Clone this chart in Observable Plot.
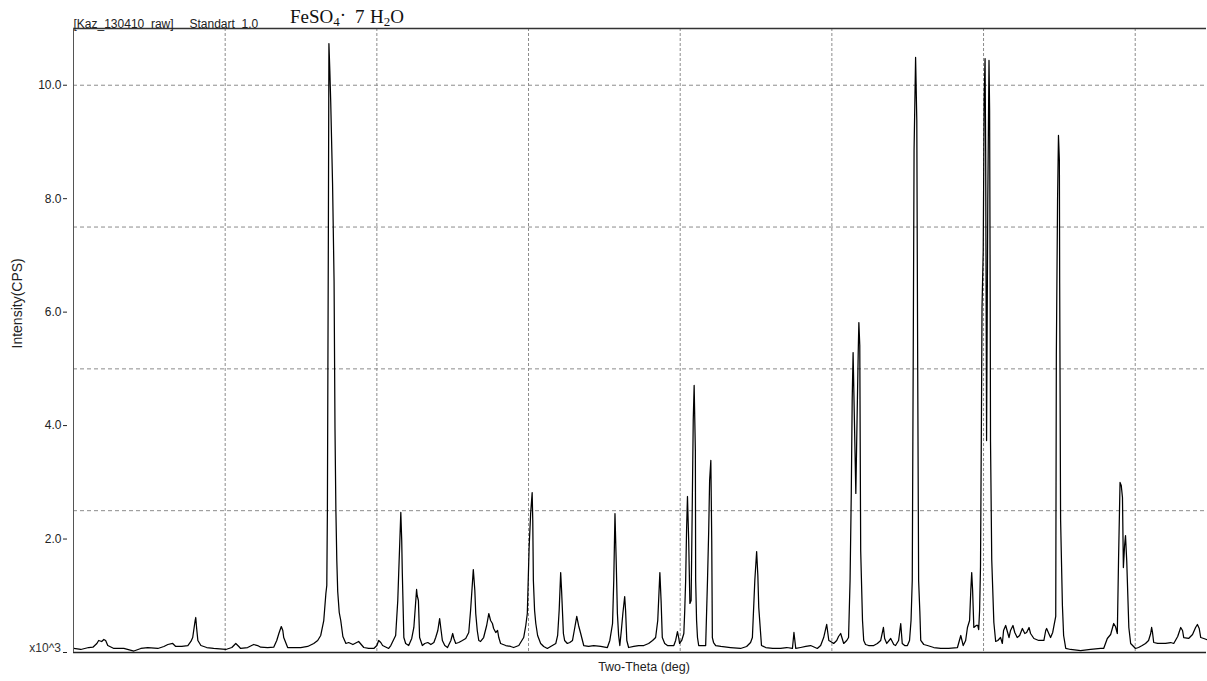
<!DOCTYPE html>
<html><head><meta charset="utf-8">
<script src="https://cdn.jsdelivr.net/npm/d3@7"></script>
<script src="https://cdn.jsdelivr.net/npm/@observablehq/plot@0.6"></script>
<style>
body{margin:0;background:#fff;}
#chart svg{display:block;}
</style></head><body><div id="chart"></div>
<script>
const twoTheta = [
5.01,5.24,5.50,5.64,5.77,5.83,5.93,6.00,6.06,6.13,
6.33,6.66,6.99,7.22,7.45,7.78,7.98,8.11,8.27,8.37,
8.57,8.77,8.87,8.93,9.01,9.03,9.06,9.10,9.20,9.39,
9.62,10.02,10.22,10.35,10.45,10.51,10.74,10.94,11.07,11.17,
11.40,11.60,11.70,11.77,11.85,11.90,11.93,12.06,12.26,12.49,
12.72,12.92,13.05,13.15,13.25,13.32,13.35,13.37,13.40,13.42,
13.45,13.48,13.54,13.59,13.62,13.65,13.68,13.71,13.76,13.81,
13.88,13.98,14.07,14.21,14.40,14.57,14.73,14.90,15.00,15.06,
15.13,15.19,15.39,15.46,15.62,15.69,15.72,15.79,15.82,15.84,
15.89,15.95,16.05,16.15,16.22,16.31,16.33,16.37,16.41,16.50,
16.58,16.68,16.78,16.88,16.94,17.01,17.07,17.11,17.16,17.24,
17.33,17.44,17.50,17.54,17.60,17.70,17.82,17.93,18.03,18.09,
18.18,18.23,18.26,18.31,18.36,18.42,18.52,18.62,18.69,18.75,
18.81,18.85,18.92,18.98,19.02,19.08,19.25,19.41,19.51,19.68,
19.84,19.91,19.96,20.02,20.07,20.12,20.14,20.16,20.20,20.24,
20.30,20.40,20.50,20.62,20.73,20.90,20.96,21.01,21.06,21.09,
21.15,21.19,21.28,21.36,21.45,21.52,21.59,21.65,21.72,21.82,
21.98,22.15,22.38,22.60,22.68,22.77,22.81,22.85,22.89,22.93,
22.97,23.01,23.06,23.11,23.17,23.20,23.24,23.30,23.47,23.63,
23.80,23.96,24.09,24.19,24.26,24.33,24.37,24.41,24.49,24.58,
24.69,24.79,24.85,24.91,24.95,24.98,25.05,25.12,25.15,25.18,
25.21,25.24,25.28,25.32,25.36,25.40,25.43,25.46,25.50,25.51,
25.54,25.57,25.61,25.74,25.84,25.90,25.94,25.97,26.01,26.04,
26.06,26.10,26.17,26.34,26.66,26.99,27.19,27.32,27.38,27.46,
27.52,27.56,27.59,27.68,27.82,28.05,28.31,28.51,28.70,28.75,
28.81,28.97,29.14,29.30,29.52,29.63,29.73,29.83,29.90,29.96,
30.06,30.16,30.22,30.29,30.36,30.39,30.49,30.55,30.60,30.64,
30.67,30.70,30.73,30.79,30.83,30.87,30.89,30.92,30.95,31.01,
31.05,31.11,31.21,31.38,31.50,31.61,31.70,31.74,31.81,31.94,
32.04,32.10,32.20,32.27,32.32,32.40,32.49,32.56,32.61,32.65,
32.68,32.71,32.76,32.80,32.83,32.86,32.90,32.93,33.03,33.15,
33.36,33.59,33.85,34.14,34.25,34.33,34.41,34.47,34.54,34.58,
34.61,34.64,34.68,34.76,34.81,34.84,34.87,34.90,34.93,34.95,
34.99,35.02,35.05,35.07,35.10,35.14,35.18,35.20,35.22,35.23,
35.27,35.34,35.40,35.47,35.56,35.62,35.66,35.73,35.84,35.89,
35.97,36.03,36.11,36.19,36.28,36.36,36.42,36.50,36.55,36.66,
36.82,36.99,37.05,37.08,37.15,37.21,37.28,37.38,37.40,37.44,
37.47,37.50,37.51,37.54,37.60,37.64,37.71,37.87,38.20,38.53,
38.86,38.96,39.08,39.19,39.29,39.35,39.41,39.45,39.50,39.54,
39.58,39.61,39.65,39.68,39.72,39.79,39.85,40.01,40.11,40.23,
40.34,40.44,40.51,40.54,40.57,40.61,40.74,40.84,41.00,41.17,
41.27,41.40,41.50,41.56,41.60,41.76,41.89,41.99,42.05,42.11,
42.16,42.26,42.35];

const intensity = [
71,53,88,93,159,212,194,229,212,123,
71,71,26,71,88,71,106,141,159,106,
106,123,194,264,564,617,423,212,123,88,
71,53,88,159,106,71,88,141,123,93,
88,93,212,335,458,388,264,88,88,88,
106,159,212,300,564,1040,1181,2503,7087,10735,
10260,9695,8268,6540,3949,2503,1622,1075,705,564,
282,159,176,141,194,88,71,71,123,212,
176,123,71,123,300,917,1393,2468,1974,1393,
264,159,123,247,441,1111,1005,917,264,123,
159,176,141,176,264,388,599,423,212,123,
88,212,335,247,159,176,212,247,353,740,
1463,1093,687,388,212,194,264,476,687,564,
511,423,353,388,264,159,123,106,88,123,
264,476,687,1851,2450,2820,2327,1269,740,511,
300,159,106,71,106,159,300,740,1410,1093,
335,212,159,176,212,423,635,476,335,123,
106,123,106,88,212,511,1269,2450,1622,687,
300,123,388,687,987,740,212,88,106,123,
123,159,212,264,564,1410,917,264,159,123,
123,123,212,370,264,159,212,335,740,1269,
2151,2750,1974,864,917,2679,4090,4707,3561,1269,
564,264,123,123,123,1269,2151,3032,3385,1974,
264,176,123,106,88,71,106,176,264,1269,
1780,1357,793,123,88,71,71,88,71,353,
71,88,106,123,71,123,264,494,212,194,
159,212,282,335,212,159,212,264,1269,2803,
4442,5288,4460,2803,4090,5324,5817,5412,1798,564,
212,141,123,123,159,212,441,247,159,247,
141,123,212,511,159,123,123,212,564,1269,
4953,8849,10489,9378,4953,1269,723,212,141,123,
88,71,71,88,300,123,212,441,564,1093,
1410,1093,441,476,476,405,740,1516,4090,6082,
7087,9731,10471,8849,3737,7968,10436,9554,6205,3720,
1639,529,194,212,264,159,388,476,264,388,
476,353,264,300,423,335,353,441,335,247,
212,212,388,423,335,264,353,635,5253,7968,
9114,8673,6505,2345,829,300,71,53,35,53,
71,71,247,317,511,458,335,1622,2997,2944,
2732,1498,1886,2062,1622,441,159,71,88,123,
159,212,335,441,353,176,159,159,159,176,
159,282,441,388,264,247,317,441,494,423,
264,247,229];

const yTicks = [0, 2000, 4000, 6000, 8000, 10000];
const yGrid = [2500, 5000, 7500, 10000];
const xGrid = [10, 15, 20, 25, 30, 35, 40];
const xDomain = [5, 42.35];
const yDomain = [0, 11000];
const fileLabel = "[Kaz_130410\u00a0\u00a0raw]";
const sampleLabel = "Standart\u00a0\u00a01.0";
const xLabel = "Two-Theta (deg)";
const yLabel = "Intensity(CPS)";
const zeroLabel = "x10^3";

const data = twoTheta.map((x, i) => ({x, y: intensity[i]}));

const plot = Plot.plot({
  width: 1207, height: 681,
  marginTop: 28, marginBottom: 29, marginLeft: 73, marginRight: 1,
  style: {fontFamily: "'Liberation Sans', Arial, sans-serif", fontSize: "12px", background: "#fff", color: "#222", overflow: "visible"},
  x: {domain: xDomain, axis: null},
  y: {domain: yDomain, axis: null},
  marks: [
    Plot.gridX(xGrid, {stroke: "#8c8c8c", strokeOpacity: 1, strokeDasharray: "3,2"}),
    Plot.gridY(yGrid, {stroke: "#8c8c8c", strokeOpacity: 1, strokeDasharray: "4,3"}),
    Plot.line(data, {x: "x", y: "y", stroke: "#000", strokeWidth: 1.25}),
    Plot.ruleY([yDomain[0]], {stroke: "#222", strokeWidth: 1.5}),
    Plot.ruleY([yDomain[1]], {stroke: "#333", strokeWidth: 1.5}),
    Plot.ruleX([xDomain[0]], {stroke: "#555", strokeWidth: 1}),
    Plot.axisY(yTicks, {tickSize: 4, dx: -6, tickPadding: 2, fontSize: 12, fill: "#222",
      tickFormat: d => d === 0 ? "" : (d / 1000).toFixed(1), label: null}),
    Plot.text([0], {y: d => d, frameAnchor: "left", text: () => zeroLabel, textAnchor: "end", dx: -12.5, dy: -4, fontSize: 12, fill: "#333"}),
    Plot.text([fileLabel], {frameAnchor: "top-left", text: d => d, textAnchor: "start", dy: -9, fontSize: 12, fill: "#222"}),
    Plot.text([sampleLabel], {frameAnchor: "top-left", text: d => d, textAnchor: "start", dx: 116, dy: -9, fontSize: 12, fill: "#222"}),
    Plot.text([xLabel], {frameAnchor: "bottom", text: d => d, dx: 4, dy: 18, fontSize: 12.5, fill: "#222"}),
    Plot.text([yLabel], {frameAnchor: "left", text: d => d, rotate: -90, dx: -56, dy: 8, fontSize: 14, fill: "#222"})
  ]
});

document.getElementById("chart").appendChild(plot);

// Chemical formula title with subscripts
const formula = [["FeSO", 0, null], ["4", 3, "sub"], ["\u00b7", -5, null], ["7", 2, null, 355], ["H", 0, null, 370], ["2", 3, "sub"], ["O", -3, null]];
const svg = d3.select(plot);
const t = svg.append("text")
  .attr("x", 290).attr("y", 23)
  .attr("text-anchor", "start")
  .attr("font-family", "'Liberation Serif','Times New Roman',serif")
  .attr("font-size", 19).attr("fill", "#111");
for (const [txt, dy, kind, x] of formula) {
  const s = t.append("tspan").text(txt).attr("dy", dy);
  if (kind === "sub") s.attr("font-size", 13);
  if (x != null) s.attr("x", x);
}
</script></body></html>
